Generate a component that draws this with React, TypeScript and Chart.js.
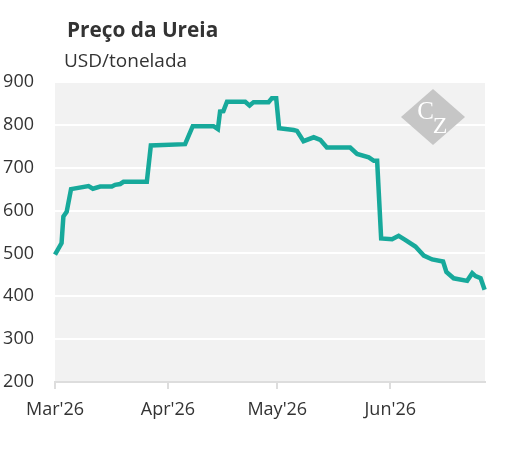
import React, { useEffect, useRef } from "react";
import { Chart, registerables } from "chart.js";

Chart.register(...registerables);

const titleText = "Preço da Ureia";
const subtitleText = "USD/tonelada";

// days since 1 Mar 2026
const days = [0, 1.8, 2.3, 3.2, 4.4, 9.2, 10.4, 12.4, 15.6, 16.5, 17.9, 18.8, 25.2, 26.3, 35.7, 37.8, 43.5, 44.7, 45.3, 46.2, 47.2, 52.2, 53.4, 54.5, 58.6, 59.5, 60.7, 61.5, 65.5, 66.4, 68.2, 71, 72.8, 74.6, 81, 82.9, 86.1, 87.5, 88.4, 89.5, 92.5, 94.3, 96.2, 98.9, 101.2, 103.5, 106.5, 107.4, 109.4, 113.1, 114.5, 115.4, 116.8, 117.9];
const prices = [497, 524, 586, 597, 650, 657, 651, 656, 656, 660, 662, 667, 667, 752, 755, 797, 797, 790, 831, 832, 854, 854, 845, 853, 853, 862, 862, 792, 788, 786, 762, 771, 765, 747, 747, 732, 724, 716, 716, 535, 533, 541, 531, 516, 495, 486, 481, 457, 442, 436, 454, 447, 442, 415];

const tickDays = [0, 31, 61, 92];
const tickLabels = ["Mar'26", "Apr'26", "May'26", "Jun'26"];

const FONT = "'Open Sans', sans-serif";
const TEXT = "#333333";

const decorPlugin = {
  id: "decor",
  beforeDraw(chart: any) {
    const { ctx, chartArea } = chart;
    ctx.save();
    ctx.fillStyle = "#f2f2f2";
    ctx.fillRect(chartArea.left, chartArea.top, chartArea.right - chartArea.left, chartArea.bottom - chartArea.top);
    ctx.restore();
  },
  beforeDatasetsDraw(chart: any) {
    const { ctx, chartArea } = chart;
    const cx = chartArea.right - 52;
    const cy = chartArea.top + 35;
    ctx.save();
    ctx.fillStyle = "#c6c6c6";
    ctx.beginPath();
    ctx.moveTo(cx, cy - 28);
    ctx.lineTo(cx + 32, cy);
    ctx.lineTo(cx, cy + 28);
    ctx.lineTo(cx - 32, cy);
    ctx.closePath();
    ctx.fill();
    ctx.fillStyle = "#ffffff";
    ctx.textAlign = "center";
    ctx.textBaseline = "alphabetic";
    ctx.font = "25px 'Liberation Serif', serif";
    ctx.fillText("C", cx - 7.5, cy + 1.5);
    ctx.font = "24px 'Liberation Serif', serif";
    ctx.fillText("Z", cx + 7, cy + 15.5);
    ctx.restore();
  },
  afterDraw(chart: any) {
    const { ctx } = chart;
    ctx.save();
    ctx.fillStyle = TEXT;
    ctx.textAlign = "left";
    ctx.textBaseline = "alphabetic";
    ctx.font = `bold 20.8px ${FONT}`;
    ctx.fillText(titleText, 67, 36.5);
    ctx.font = `19px ${FONT}`;
    ctx.fillText(subtitleText, 64, 66.5);
    ctx.restore();
  },
};

export default function App() {
  const ref = useRef<HTMLCanvasElement | null>(null);
  useEffect(() => {
    document.body.style.margin = "0";
    const chart = new Chart(ref.current as HTMLCanvasElement, {
      type: "line",
      data: {
        datasets: [
          {
            data: days.map((d, i) => ({ x: d, y: prices[i] })),
            borderColor: "#17a99b",
            borderWidth: 4.5,
            pointRadius: 0,
            tension: 0,
            fill: false,
            clip: 3,
          },
        ],
      },
      options: {
        animation: false,
        responsive: false,
        devicePixelRatio: 1,
        layout: { padding: { top: 82, right: 23, left: 0, bottom: 0 } },
        plugins: { legend: { display: false }, tooltip: { enabled: false }, title: { display: false } },
        scales: {
          x: {
            type: "linear",
            min: 0,
            max: 118,
            afterBuildTicks: (scale: any) => {
              scale.ticks = tickDays.map((v) => ({ value: v }));
            },
            afterFit: (scale: any) => {
              scale.height = 68;
            },
            ticks: {
              autoSkip: false,
              maxRotation: 0,
              padding: 10,
              color: TEXT,
              font: { family: FONT, size: 18 },
              callback: (_v: any, i: number) => tickLabels[i],
            },
            grid: { drawOnChartArea: false, drawTicks: true, tickLength: 7, color: "#dddddd", lineWidth: 2 },
            border: { display: true, color: "#dddddd", width: 2 },
          },
          y: {
            min: 200,
            max: 900,
            afterFit: (scale: any) => {
              scale.width = 55;
            },
            ticks: {
              stepSize: 100,
              padding: 21,
              color: TEXT,
              font: { family: FONT, size: 18 },
            },
            grid: { color: "#ffffff", lineWidth: 2, drawTicks: false },
            border: { display: false },
          },
        },
      },
      plugins: [decorPlugin],
    } as any);
    return () => chart.destroy();
  }, []);
  return <canvas ref={ref} width={508} height={450} style={{ display: "block" }} />;
}
